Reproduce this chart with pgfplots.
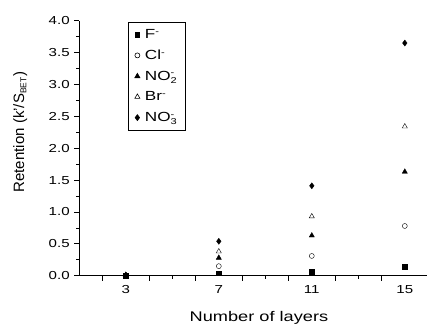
\documentclass[border=0pt]{standalone}
\usepackage{pgfplots}
\pgfplotsset{compat=1.18}
\usepackage{fontspec}
\setmainfont{Liberation Sans}
\newcommand{\mn}{\mbox{\fontsize{8.5}{9}\selectfont -}}
\newcommand{\sub}[1]{\mbox{\fontsize{8.5}{9}\selectfont #1}}
\newcommand{\sx}[1]{\scalebox{1.3}[1]{#1}}
\begin{document}
\begin{tikzpicture}
\begin{axis}[
  scale only axis,
  width=348.75pt, height=255pt,
  xmin=1, xmax=16, ymin=0, ymax=4,
  axis x line*=bottom, axis y line*=left,
  axis line style={line width=0.8pt},
  xtick={2,4,6,8,10,12,14,16},
  xticklabels={},
  minor xtick={5,9,13},
  extra x ticks={3,7,11,15},
  extra x tick labels={3,7,11,15},
  extra x tick style={major tick length=0pt},
  ytick={0,0.5,1,1.5,2,2.5,3,3.5,4},
  minor ytick={0.25,0.75,1.25,1.75,2.25,2.75,3.25,3.75},
  yticklabel style={/pgf/number format/.cd,fixed,fixed zerofill,precision=1},
  tick align=outside,
  major tick length=5pt, minor tick length=3pt,
  tick style={black, line width=0.7pt},
  /pgf/number format/assume math mode=true,
  ticklabel style={font=\fontsize{11.6}{13}\selectfont, xscale=1.3},
  xticklabel style={yshift=-6pt},
  xlabel style={font=\fontsize{14}{16}\selectfont, xscale=1.3, at={(axis description cs:0.515,-0.18)}, anchor=base},
  ylabel style={font=\fontsize{15}{16}\selectfont, at={(axis description cs:-0.169,0.563)}, anchor=center},
  xlabel={Number of layers},
  ylabel={Retention (k'/S$_{\sub{BET}}$)},
  legend style={at={(0.141,0.995)}, anchor=north west, draw=black, line width=0.6pt, font=\fontsize{13.2}{14}\selectfont, row sep=6pt, column sep=3pt, inner xsep=6pt, inner ysep=5pt},
  legend cell align=left,
  clip=false,
]
\addplot[only marks, mark=square*, mark size=2.4pt, black] coordinates {(3,0.0) (7,0.04) (11,0.06) (15,0.14)};
\addlegendentry{\sx{F$^{\mn}$}}
\addplot[only marks, mark=o, mark size=2.5pt, black] coordinates {(3,0.0) (7,0.15) (11,0.31) (15,0.78)};
\addlegendentry{\sx{Cl$^{\mn}$}}
\addplot[only marks, mark=triangle*, mark size=3pt, black] coordinates {(3,0.01) (7,0.28) (11,0.63) (15,1.63)};
\addlegendentry{\sx{NO$_{\sub{2}}^{\mn}$}}
\addplot[only marks, mark=triangle, mark size=3pt, black] coordinates {(3,0.01) (7,0.38) (11,0.93) (15,2.34)};
\addlegendentry{\sx{Br$^{\mn}$}}
\addplot[only marks, mark=diamond*, mark size=3pt, black] coordinates {(3,0.01) (7,0.54) (11,1.41) (15,3.65)};
\addlegendentry{\sx{NO$_{\sub{3}}^{\mn}$}}
\end{axis}
\pgfresetboundingbox
\path[use as bounding box] (-79.3pt,-49.3pt) rectangle (347.7pt,275.7pt);
\end{tikzpicture}
\end{document}
